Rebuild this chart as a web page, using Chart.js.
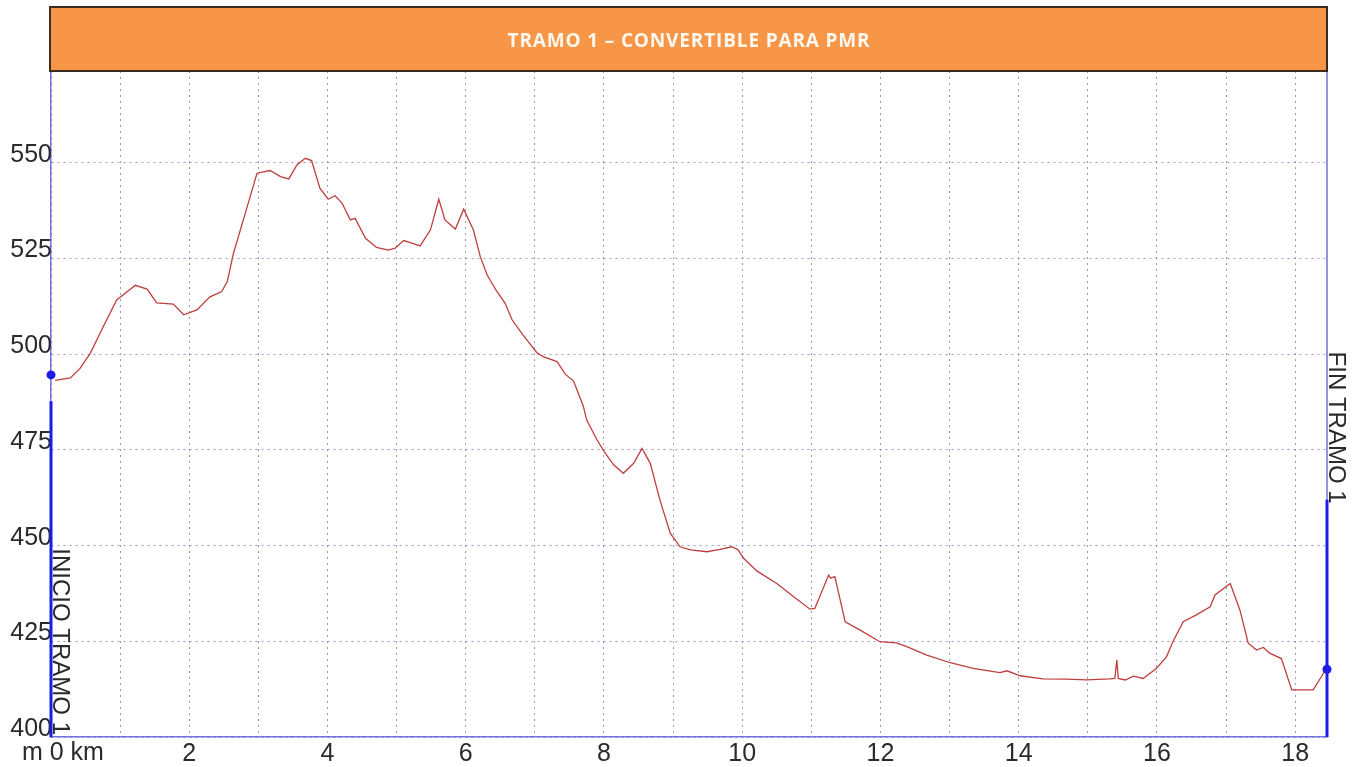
<!DOCTYPE html>
<html>
<head>
<meta charset="utf-8">
<script src="https://cdn.jsdelivr.net/npm/chart.js@4"></script>
<style>
  html, body { margin: 0; padding: 0; background: #ffffff; }
  #wrap { position: relative; width: 1356px; height: 767px; }
</style>
</head>
<body>
<div id="wrap"><canvas id="c" width="1356" height="767"></canvas></div>
<script>
const chartTitle = 'TRAMO 1 \u2013 CONVERTIBLE PARA PMR';
const startLabel = 'INICIO TRAMO 1';
const endLabel = 'FIN TRAMO 1';
const yUnit = 'm';
const xUnit = 'km';

const distanceKm = [0.06,0.28,0.42,0.57,0.75,0.95,1.22,1.39,1.53,1.77,1.92,2.11,
  2.30,2.47,2.55,2.64,2.81,2.98,3.17,3.32,3.44,3.56,
  3.68,3.77,3.89,4.01,4.11,4.21,4.33,4.40,4.55,4.71,
  4.88,4.98,5.10,5.22,5.34,5.49,5.61,5.70,5.85,5.97,
  6.11,6.21,6.31,6.45,6.57,6.67,6.83,7.03,7.12,7.32,
  7.44,7.56,7.70,7.75,7.90,8.02,8.14,8.28,8.43,8.55,
  8.67,8.81,8.96,9.10,9.25,9.49,9.68,9.85,9.94,10.02,
  10.21,10.50,10.74,10.98,11.05,11.25,11.28,11.34,11.49,11.70,
  11.99,12.23,12.38,12.67,13.01,13.34,13.73,13.83,14.02,14.35,
  14.69,14.98,15.32,15.39,15.42,15.44,15.54,15.66,15.80,15.99,
  16.14,16.23,16.38,16.57,16.77,16.84,17.06,17.20,17.32,17.44,
  17.54,17.63,17.80,17.95,18.26,18.38,18.44];

const elevationM = [493.2,493.8,496.3,500.3,507.0,514.2,518,517,513.4,513.1,510.3,511.6,
  515,516.4,519,526.4,536.8,547.3,548,546.4,545.8,549.5,
  551.2,550.6,543.4,540.5,541.4,539.5,535.1,535.5,530.3,527.9,
  527.2,527.7,529.7,529.0,528.3,532.5,540.5,535.1,532.7,537.9,
  532.5,525.5,520.7,516.4,513.3,509.0,505.0,500.4,499.4,498.1,
  494.8,493,486.5,482.8,477.6,474.1,471.1,468.9,471.5,475.4,
  471.5,461.9,453.2,449.7,448.9,448.4,449,449.7,448.9,446.7,
  443.4,440.1,436.7,433.4,433.6,442.3,441.5,441.9,430.1,428.0,
  424.9,424.6,423.6,421.4,419.4,417.9,416.8,417.3,416.0,415.2,
  415.1,414.9,415.2,415.3,420.1,415.3,414.9,415.9,415.3,417.9,
  421.0,424.9,430.1,431.9,434.0,437.1,440.1,433.2,424.5,422.7,
  423.4,421.9,420.5,412.3,412.3,415.8,417.7];

// section start / end markers
const markerKm = [0, 18.46];
const markerElev = [494.6, 417.7];
// thick marker bars (elevation where each bar begins, down to the axis)
const markerBarTop = [487.7, 462.0];
// where each vertical label starts (elevation)
const markerLabelTop = [449.3, 500.7];

const yMin = 400, yMax = 574, yStep = 25;
const xMin = 0, xMax = 18.46, xStep = 1, xLabelEvery = 2;

const FONT = '"Liberation Sans", Arial, sans-serif';
const TEXT = '#2a2a2a';
const GRID = 'rgba(110,110,200,0.7)';
const AXIS = '#7272de';
const BLUE = '#1c1ce6';

const overlay = {
  id: 'overlay',
  beforeDatasetsDraw(chart) {
    const {ctx, chartArea: a, scales: {x, y}} = chart;
    ctx.save();
    // right frame line
    ctx.strokeStyle = AXIS; ctx.lineWidth = 1.5;
    ctx.beginPath(); ctx.moveTo(a.right, a.top); ctx.lineTo(a.right, a.bottom); ctx.stroke();
    // thick marker bars
    ctx.strokeStyle = BLUE; ctx.lineWidth = 3;
    for (let i = 0; i < markerKm.length; i++) {
      const px = x.getPixelForValue(markerKm[i]);
      ctx.beginPath();
      ctx.moveTo(px, y.getPixelForValue(markerBarTop[i]));
      ctx.lineTo(px, y.getPixelForValue(yMin));
      ctx.stroke();
    }
    // vertical labels
    ctx.fillStyle = TEXT;
    ctx.font = '24px ' + FONT;
    ctx.textAlign = 'left';
    ctx.textBaseline = 'alphabetic';
    const labels = [startLabel, endLabel];
    for (let i = 0; i < labels.length; i++) {
      const px = x.getPixelForValue(markerKm[i]) + 2;
      const py = y.getPixelForValue(markerLabelTop[i]);
      ctx.save();
      ctx.translate(px, py);
      ctx.rotate(Math.PI / 2);
      ctx.fillText(labels[i], 0, 0);
      ctx.restore();
    }
    ctx.restore();
  },
  afterDraw(chart) {
    const {ctx, chartArea: a} = chart;
    ctx.save();
    // title bar
    const bx = a.left - 1, by = 7, bw = a.right - a.left + 1, bh = a.top - 7;
    ctx.fillStyle = '#f79646';
    ctx.fillRect(bx, by, bw, bh);
    ctx.strokeStyle = '#3b2b1e'; ctx.lineWidth = 2;
    ctx.strokeRect(bx, by, bw, bh);
    ctx.fillStyle = '#fff8f0';
    ctx.font = 'bold 19px "Open Sans", ' + FONT;
    ctx.textAlign = 'center';
    ctx.textBaseline = 'middle';
    const w = ctx.measureText(chartTitle).width;
    const target = 362;
    try { ctx.letterSpacing = Math.max(-1, (target - w) / (chartTitle.length - 1)).toFixed(2) + 'px'; } catch (e) {}
    ctx.fillText(chartTitle, (a.left + a.right) / 2, 42);
    try { ctx.letterSpacing = '0px'; } catch (e) {}
    // unit labels with the origin tick label
    ctx.fillStyle = TEXT;
    ctx.font = '25px ' + FONT;
    ctx.textBaseline = 'middle';
    ctx.textAlign = 'left';
    ctx.fillText(yUnit + ' ' + String(xMin) + ' ' + xUnit, 22, 753);
    ctx.restore();
  }
};

new Chart(document.getElementById('c'), {
  type: 'scatter',
  data: {
    datasets: [
      {
        label: 'markers',
        data: markerKm.map((v, i) => ({x: v, y: markerElev[i]})),
        pointRadius: 4.5,
        pointHoverRadius: 4.5,
        pointBackgroundColor: BLUE,
        pointBorderColor: BLUE,
        borderWidth: 0,
        showLine: false,
        clip: false,
        order: 0
      },
      {
        label: 'perfil',
        data: distanceKm.map((v, i) => ({x: v, y: elevationM[i]})),
        showLine: true,
        borderColor: '#bf3e3e',
        borderWidth: 1.3,
        pointRadius: 0,
        tension: 0,
        fill: false,
        order: 1
      }
    ]
  },
  options: {
    responsive: false,
    animation: false,
    events: [],
    layout: { padding: { top: 71, right: 29, left: 0, bottom: 0 } },
    plugins: { legend: { display: false }, tooltip: { enabled: false }, title: { display: false } },
    scales: {
      x: {
        type: 'linear',
        min: xMin, max: xMax,
        afterFit(s) { s.height = 30; },
        ticks: {
          stepSize: xStep,
          includeBounds: false,
          autoSkip: false,
          maxRotation: 0,
          padding: 2,
          color: TEXT,
          font: { family: FONT, size: 25 },
          callback: v => (v !== xMin && v % xLabelEvery === 0 ? String(v) : '')
        },
        grid: { color: GRID, lineWidth: 1, drawTicks: false },
        border: { display: true, color: AXIS, width: 1.5, dash: [2, 4] }
      },
      y: {
        type: 'linear',
        min: yMin, max: yMax,
        afterFit(s) { s.width = 51; },
        ticks: {
          stepSize: yStep,
          includeBounds: false,
          padding: -1,
          labelOffset: -8,
          color: TEXT,
          font: { family: FONT, size: 25 }
        },
        grid: { color: GRID, lineWidth: 1, drawTicks: false },
        border: { display: true, color: AXIS, width: 1.5, dash: [2, 4] }
      }
    }
  },
  plugins: [overlay]
});
</script>
</body>
</html>
